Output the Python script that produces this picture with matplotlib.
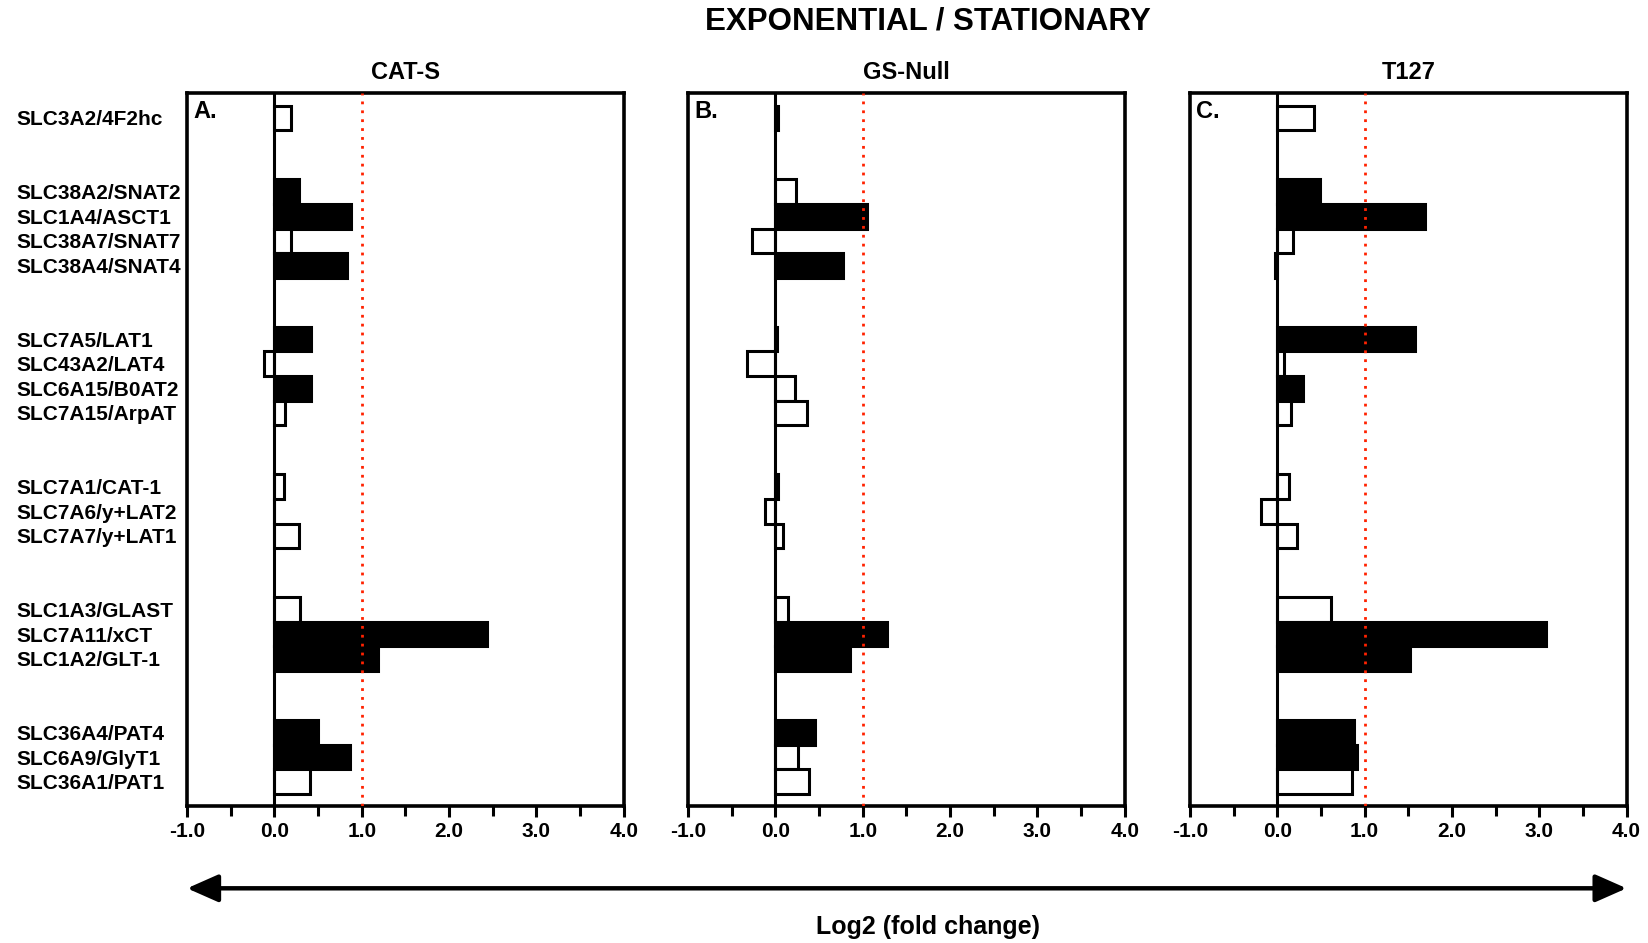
import numpy as np
import matplotlib.pyplot as plt
from matplotlib.ticker import MultipleLocator

plt.rcParams['font.family'] = ['Liberation Sans', 'DejaVu Sans']
plt.rcParams['font.weight'] = 'bold'

# transporter genes, top to bottom
genes = ['SLC3A2/4F2hc',
         'SLC38A2/SNAT2', 'SLC1A4/ASCT1', 'SLC38A7/SNAT7', 'SLC38A4/SNAT4',
         'SLC7A5/LAT1', 'SLC43A2/LAT4', 'SLC6A15/B0AT2', 'SLC7A15/ArpAT',
         'SLC7A1/CAT-1', 'SLC7A6/y+LAT2', 'SLC7A7/y+LAT1',
         'SLC1A3/GLAST', 'SLC7A11/xCT', 'SLC1A2/GLT-1',
         'SLC36A4/PAT4', 'SLC6A9/GlyT1', 'SLC36A1/PAT1']
# slot of each gene on the y axis (groups separated by gaps)
slots = [0, 3, 4, 5, 6, 9, 10, 11, 12, 15, 16, 17, 20, 21, 22, 25, 26, 27]

panels = ['CAT-S', 'GS-Null', 'T127']
letters = ['A.', 'B.', 'C.']

# log2 fold change exponential / stationary
cats_vals = [0.19, 0.28, 0.88, 0.19, 0.83, 0.42, -0.12, 0.42, 0.12,
             0.11, -0.01, 0.28, 0.29, 2.43, 1.19, 0.50, 0.87, 0.41]
gsnull_vals = [0.03, 0.24, 1.05, -0.27, 0.77, 0.02, -0.33, 0.22, 0.36,
               0.03, -0.12, 0.09, 0.14, 1.28, 0.85, 0.45, 0.26, 0.39]
t127_vals = [0.42, 0.49, 1.69, 0.18, -0.03, 1.58, 0.08, 0.29, 0.16,
             0.13, -0.19, 0.23, 0.62, 3.08, 1.52, 0.88, 0.91, 0.86]

# 1 = filled (black), 0 = open
cats_fill = [0, 1, 1, 0, 1, 1, 0, 1, 0, 0, 0, 0, 0, 1, 1, 1, 1, 0]
gsnull_fill = [1, 0, 1, 0, 1, 1, 0, 0, 0, 1, 0, 0, 0, 1, 1, 1, 0, 0]
t127_fill = [0, 1, 1, 0, 1, 1, 0, 1, 0, 0, 0, 0, 0, 1, 1, 1, 1, 0]

all_vals = [cats_vals, gsnull_vals, t127_vals]
all_fill = [cats_fill, gsnull_fill, t127_fill]

fig = plt.figure(figsize=(16.48, 9.43), dpi=100)
lefts = [0.1135, 0.4175, 0.722]
axes = []
for i in range(3):
    ax = fig.add_axes([lefts[i], 0.145, 0.265, 0.756])
    axes.append(ax)
    colors = ['black' if f else 'white' for f in all_fill[i]]
    ax.barh(slots, all_vals[i], height=1.0, color=colors, edgecolor='black',
            linewidth=2.2, zorder=3)
    ax.axvline(0, color='black', lw=2.2, zorder=4)
    ax.axvline(1, color='#ff2200', lw=2.0, ls=(0, (1, 2.2)), zorder=5)
    ax.set_xlim(-1, 4)
    ax.set_ylim(28, -1)
    ax.xaxis.set_major_locator(MultipleLocator(1))
    ax.xaxis.set_minor_locator(MultipleLocator(0.5))
    ax.set_xticklabels(['%.1f' % v for v in ax.get_xticks()])
    ax.tick_params(axis='x', which='major', direction='out', length=8, width=2.2,
                   labelsize=15, pad=3)
    ax.tick_params(axis='x', which='minor', direction='out', length=7, width=2.2)
    for s in ax.spines.values():
        s.set_linewidth(2.6)
    ax.set_title(panels[i], fontsize=17, fontweight='bold', pad=10)
    ax.text(0.015, 0.99, letters[i], transform=ax.transAxes, fontsize=17,
            fontweight='bold', va='top', ha='left')
    if i == 0:
        ax.set_yticks(slots)
        ax.set_yticklabels(genes, ha='left', fontsize=15)
        ax.tick_params(axis='y', length=0, pad=123)
    else:
        ax.set_yticks([])

fig.text(0.563, 0.977, 'EXPONENTIAL / STATIONARY', ha='center', va='center',
         fontsize=22.5, fontweight='bold')
fig.text(0.563, 0.017, 'Log2 (fold change)', ha='center', va='center',
         fontsize=18, fontweight='bold')
fig.patches.append(plt.matplotlib.patches.FancyArrowPatch(
    (0.1135, 0.058), (0.987, 0.058), transform=fig.transFigure,
    arrowstyle='<|-|>,head_length=9.5,head_width=4.2', mutation_scale=2,
    lw=3.2, color='black', shrinkA=0, shrinkB=0))

fig.savefig('out.png', dpi=100)
